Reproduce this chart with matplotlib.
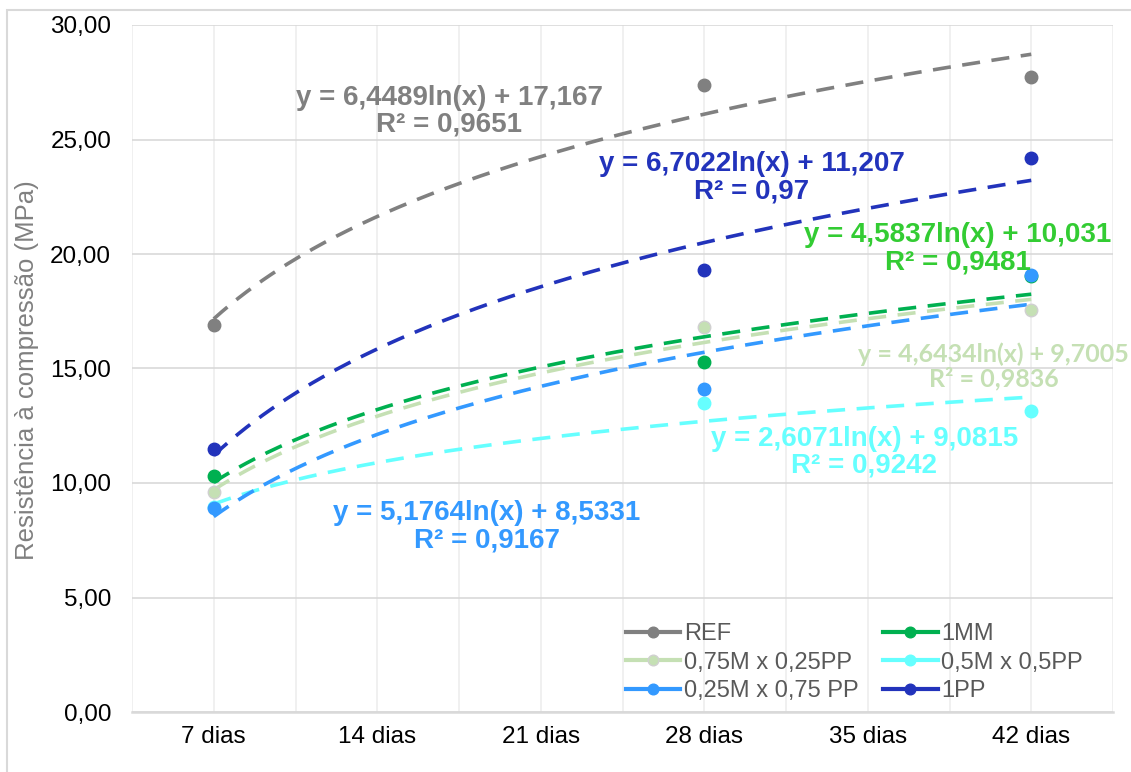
#IMPORTANDO BIBLIOTECAS
import numpy as np
import matplotlib
matplotlib.use("Agg")
import matplotlib.pyplot as plt
from matplotlib.patches import Rectangle
from matplotlib.ticker import FuncFormatter

plt.rcParams["font.family"] = ["Liberation Sans", "DejaVu Sans"]

#DADOS
dias = ["7 dias", "14 dias", "21 dias", "28 dias", "35 dias", "42 dias"]
series = ["REF", "1MM", "0,75M x 0,25PP", "0,5M x 0,5PP", "0,25M x 0,75 PP", "1PP"]

ref = [16.9, None, None, 27.4, None, 27.75]
mm1 = [10.3, None, None, 15.3, None, 19.05]
m075 = [9.6, None, None, 16.8, None, 17.55]
m050 = [8.95, None, None, 13.5, None, 13.15]
m025 = [8.9, None, None, 14.1, None, 19.1]
pp1 = [11.5, None, None, 19.3, None, 24.2]
valores = [ref, mm1, m075, m050, m025, pp1]

#LINHAS DE TENDENCIA (y = a ln(x) + b)
coef_a = [6.4489, 4.5837, 4.6434, 2.6071, 5.1764, 6.7022]
coef_b = [17.167, 10.031, 9.7005, 9.0815, 8.5331, 11.207]
r2 = [0.9651, 0.9481, 0.9836, 0.9242, 0.9167, 0.97]

#ESTILO
cores = ["#808080", "#00B050", "#C5E0B4", "#66FFFF", "#3399FF", "#2233BB"]
cores_texto = ["#808080", "#33CC33", "#C5E0B4", "#66FFFF", "#3399FF", "#2233BB"]
bordas = ["#808080", "#00B050", "#D0D0D0", "#66FFFF", "#3399FF", "#2233BB"]
fontes = ["Liberation Sans", "Liberation Sans", "Lato", "Liberation Sans", "Liberation Sans", "Liberation Sans"]
tamanhos = [20, 20, 18, 20, 20, 20]
pos_texto = [(2.44, 26.24), (5.55, 20.22), (5.77, 15.1), (4.98, 11.35), (2.67, 8.08), (4.29, 23.32)]

fig = plt.figure(figsize=(11.31, 7.72), dpi=100)
ax = fig.add_axes([132 / 1131, 60 / 772, 981 / 1131, 687 / 772])

x = np.arange(1, len(dias) + 1)
xt = np.linspace(1, 6, 200)

linhas = []
for i in range(len(series)):
    y = np.array([np.nan if v is None else v for v in valores[i]], dtype=float)
    l, = ax.plot(x, y, color=cores[i], lw=3, marker="o", markersize=9,
                 markerfacecolor=cores[i], markeredgecolor=bordas[i],
                 markeredgewidth=1, label=series[i], zorder=4)
    linhas.append(l)
    yt = coef_a[i] * np.log(xt) + coef_b[i]
    ax.plot(xt, yt, color=cores[i], lw=2.6, linestyle=(0, (5, 3.2)),
            zorder=3, solid_capstyle="butt")
    texto = ("y = " + str(coef_a[i]).replace(".", ",") + "ln(x) + "
             + str(coef_b[i]).replace(".", ",") + "\nR² = "
             + str(r2[i]).replace(".", ","))
    ax.text(pos_texto[i][0], pos_texto[i][1], texto, color=cores_texto[i],
            fontsize=tamanhos[i], fontweight="bold", ha="center", va="center",
            family=[fontes[i], "DejaVu Sans"],
            multialignment="center", linespacing=1.05, zorder=5,
            clip_on=False)

#EIXOS
ax.set_xlim(0.5, 6.5)
ax.set_ylim(0, 30)
ax.set_xticks(x)
ax.set_xticklabels(dias)
ax.set_xticks(np.arange(0.5, 6.6, 0.5), minor=True)
ax.set_yticks(np.arange(0, 31, 5))
ax.yaxis.set_major_formatter(FuncFormatter(lambda v, p: f"{v:.2f}".replace(".", ",")))
ax.tick_params(axis="both", which="both", length=0, labelsize=17.5, colors="#000000")
ax.tick_params(axis="y", pad=15)
ax.tick_params(axis="x", pad=10)

ax.grid(axis="x", which="both", color="#EDEDED", lw=1.2, zorder=0)
ax.grid(axis="y", which="major", color="#D9D9D9", lw=1.2, zorder=0)
ax.set_axisbelow(True)

for s in ["top", "right", "left"]:
    ax.spines[s].set_visible(False)
ax.spines["bottom"].set_color("#D9D9D9")
ax.spines["bottom"].set_linewidth(1.8)

fig.text(27 / 1131, 1 - 370 / 772, "Resistência à compressão (MPa)",
         rotation=90, ha="center", va="center", fontsize=18.5, color="#808080")

#LEGENDA (preenchida por linha como no Excel)
ordem = [0, 2, 4, 1, 3, 5]
leg = ax.legend([linhas[k] for k in ordem], [series[k] for k in ordem],
                ncol=2, loc="upper left", bbox_to_anchor=(626 / 1131, 1 - 623 / 772),
                bbox_transform=fig.transFigure, frameon=False, fontsize=17,
                handlelength=2.3, handletextpad=0.15, labelspacing=0.28,
                columnspacing=1.05, borderpad=0, borderaxespad=0, markerscale=0.85)
for t in leg.get_texts():
    t.set_color("#595959")

#BORDA DA FIGURA
fig.add_artist(Rectangle((7 / 1131, -0.1), 1.2, 1.1 - 10 / 772, transform=fig.transFigure,
                         fill=False, edgecolor="#D9D9D9", lw=1.5))

plt.savefig("out.png", dpi=100)
